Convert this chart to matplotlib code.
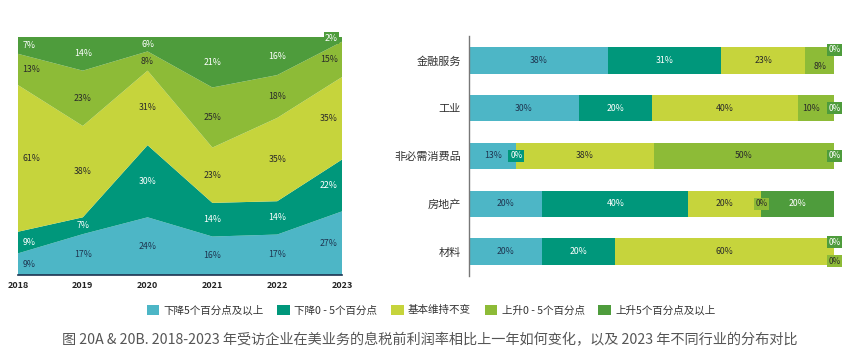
import matplotlib.pyplot as plt
import numpy as np
from matplotlib.patches import Patch

plt.rcParams['font.family'] = ['Noto Sans CJK SC', 'DejaVu Sans']

# ---- data ----
years = [2018, 2019, 2020, 2021, 2022, 2023]
series_names = ['下降5个百分点及以上', '下降0 - 5个百分点', '基本维持不变',
                '上升0 - 5个百分点', '上升5个百分点及以上']
down5 = [9, 17, 24, 16, 17, 27]
down0_5 = [9, 7, 30, 14, 14, 22]
flat = [61, 38, 31, 23, 35, 35]
up0_5 = [13, 23, 8, 25, 18, 15]
up5 = [7, 14, 6, 21, 16, 2]

industries = ['金融服务', '工业', '非必需消费品', '房地产', '材料']
ind_down5 = [38, 30, 13, 20, 20]
ind_down0_5 = [31, 20, 0, 40, 20]
ind_flat = [23, 40, 38, 20, 60]
ind_up0_5 = [8, 10, 50, 0, 0]
ind_up5 = [0, 0, 0, 20, 0]

caption = '图 20A & 20B. 2018-2023 年受访企业在美业务的息税前利润率相比上一年如何变化，以及 2023 年不同行业的分布对比'

colors = ['#4db6c6', '#00977b', '#c6d43c', '#8dbb37', '#4e9c3c']
txt_colors = ['#1f3550', 'white', '#2a2a2a', '#2a2a2a', 'white']

fig = plt.figure(figsize=(8.66, 3.55), dpi=100)

# ---- left: stacked area ----
ax1 = fig.add_axes([18/866, 80/355, 324/866, 238/355])
left_data = np.array([down5, down0_5, flat, up0_5, up5], dtype=float)
left_pct = left_data / left_data.sum(axis=0) * 100
ax1.stackplot(years, left_pct, colors=colors, linewidth=0)
ax1.set_xlim(2018, 2023)
ax1.set_ylim(0, 100)
ax1.set_yticks([])
ax1.set_xticks(years)
ax1.set_xticklabels([str(y) for y in years], fontsize=6.5, fontweight='bold', color='#222222')
ax1.tick_params(axis='x', length=0, pad=4)
for s in ['top', 'right', 'left']:
    ax1.spines[s].set_visible(False)
ax1.spines['bottom'].set_color('#1d3350')
ax1.spines['bottom'].set_linewidth(1.2)

cum = np.cumsum(left_pct, axis=0)
for k in range(len(years)):
    for i in range(5):
        mid = cum[i, k] - left_pct[i, k] / 2
        label = f'{int(left_data[i, k])}%'
        if k == 0:
            ha, dx = 'left', 3
        elif k == len(years) - 1:
            ha, dx = 'right', -3
        else:
            ha, dx = 'center', 0
        bbox = None
        if left_data[i, k] < 4:
            bbox = dict(boxstyle='square,pad=0.15', fc=colors[i], ec='none')
            mid = cum[i, k] - 0.5
        ax1.annotate(label, (years[k], mid), xytext=(dx, 0), textcoords='offset points',
                     ha=ha, va='center', fontsize=6.3, color=txt_colors[i], bbox=bbox,
                     annotation_clip=False)

# ---- right: stacked horizontal bars ----
ax2 = fig.add_axes([469.3/866, 79.5/355, 365/866, 239/355])
right_data = np.array([ind_down5, ind_down0_5, ind_flat, ind_up0_5, ind_up5], dtype=float)
right_pct = right_data / right_data.sum(axis=0) * 100
ypos = np.arange(len(industries))
left = np.zeros(len(industries))
# small vertical nudges for crowded labels (row, series): dy
nudge = {(0, 4): -0.22, (0, 3): 0.13, (4, 4): -0.2, (4, 3): 0.2}
for i in range(5):
    ax2.barh(ypos, right_pct[i], left=left, height=0.55, color=colors[i], linewidth=0)
    for r in range(len(industries)):
        v = right_data[i, r]
        dy = nudge.get((r, i), 0)
        if v == 0:
            ax2.text(left[r], ypos[r] + dy, '0%', ha='center', va='center', fontsize=6,
                     color='white' if i != 3 else '#2a2a2a',
                     bbox=dict(boxstyle='square,pad=0.2', fc=colors[i], ec='none'),
                     clip_on=False)
        else:
            x = left[r] + right_pct[i, r] / 2
            if r == 1 and i == 3:
                x = left[r] + right_pct[i, r] * 0.35
            ax2.text(x, ypos[r] + dy, f'{int(v)}%', ha='center', va='center',
                     fontsize=6.3, color=txt_colors[i])
    left = left + right_pct[i]

ax2.set_xlim(0, 100)
ax2.set_ylim(len(industries) - 0.5, -0.5)
ax2.set_yticks(ypos)
ax2.set_yticklabels(industries, fontsize=8, color='#333333')
ax2.tick_params(axis='y', length=0, pad=6)
ax2.set_xticks([])
for s in ['top', 'right', 'bottom']:
    ax2.spines[s].set_visible(False)
ax2.spines['left'].set_color('#777777')
ax2.spines['left'].set_linewidth(1.0)

# ---- legend & caption ----
handles = [Patch(facecolor=c, edgecolor='none') for c in colors]
fig.legend(handles, series_names, loc='center', bbox_to_anchor=(431/866, 1 - 310/355),
           ncol=5, frameon=False, fontsize=7.6, handlelength=1.2, handleheight=1.2,
           handletextpad=0.4, columnspacing=1.3, labelcolor='#333333')
fig.text(430/866, 1 - 340/355, caption, ha='center', va='center', fontsize=10.2, color='#555555')

fig.savefig('out.png', dpi=100)
